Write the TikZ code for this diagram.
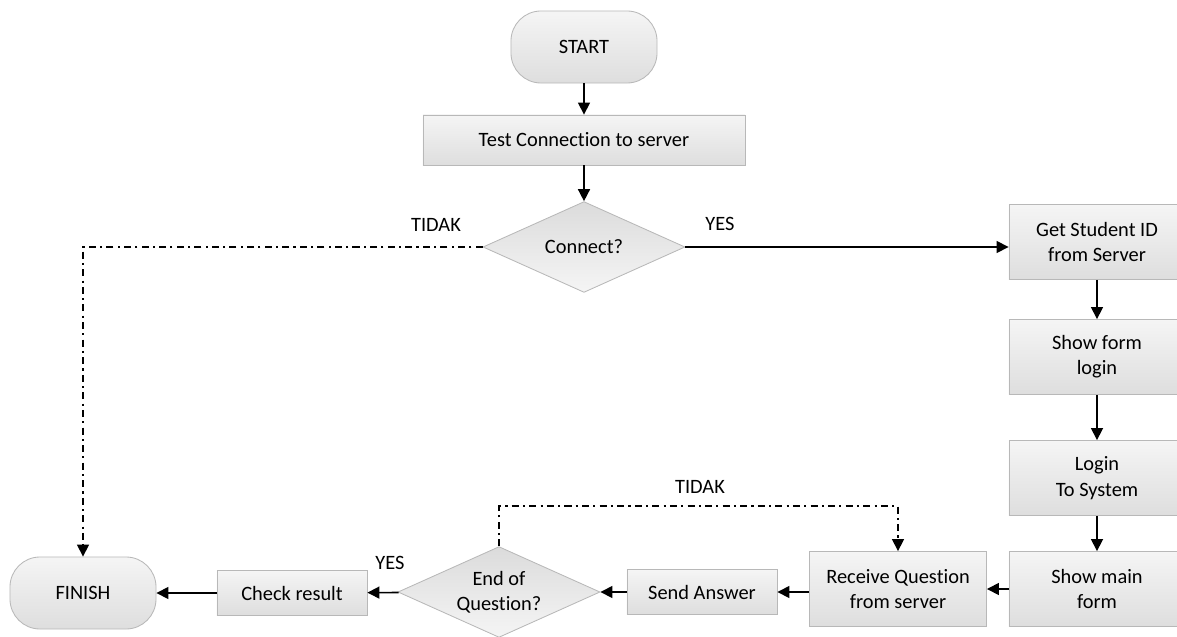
\documentclass[tikz,border=0pt]{standalone}
\usepackage{fontspec}
\setmainfont{Carlito}[Ligatures=NoCommon]
\usepackage{tikz}
\usetikzlibrary{arrows.meta, shapes.geometric, positioning}
\definecolor{boxline}{rgb}{0.72, 0.72, 0.72}

\tikzset{
	base/.style={draw=boxline, line width=0.6pt, align=center, inner sep=2pt,
		font=\fontsize{14.5}{18}\selectfont, top color=gray!8, bottom color=gray!26},
	term/.style={base, rounded corners=0.75cm, minimum width=3.65cm, minimum height=1.8cm},
	proc/.style={base, minimum width=4.4cm, minimum height=1.875cm},
	smallproc/.style={base, minimum width=3.75cm, minimum height=1.125cm},
	decide/.style={base, diamond, aspect=2.2, inner sep=0pt, top color=gray!28, bottom color=gray!8,
		minimum width=5.05cm, minimum height=2.27cm},
	flow/.style={line width=1.1pt, -{Triangle[length=0.3cm, width=0.3cm]}},
	altflow/.style={flow, dash pattern=on 5pt off 3pt on 1.5pt off 3pt},
	lbl/.style={font=\fontsize{14.5}{18}\selectfont}
}

\begin{document}
\begin{tikzpicture}[x=0.025cm, y=-0.025cm]
		\useasboundingbox (0,0) rectangle (1177,637);
		% top part
		\node [term] (start) at (584,47) {START};
		\node [base, minimum width=8.05cm, minimum height=1.25cm] (test) at (584,140) {Test Connection to server};
		\node [decide] (conn) at (584,247) {Connect?};
		% right column
		\node [proc] (getid) at (1097,242) {Get Student ID\\from Server};
		\node [proc] (formlogin) at (1097,357) {Show form\\login};
		\node [proc] (login) at (1097,478) {Login\\To System};
		\node [proc] (mainform) at (1097,589) {Show main\\form};
		% bottom row
		\node [proc, minimum width=4.425cm] (recv) at (898,589) {Receive Question\\from server};
		\node [smallproc] (send) at (702,592) {Send Answer};
		\node [decide] (endq) at (499,592) {End of\\Question?};
		\node [smallproc] (check) at (292,593) {Check result};
		\node [term] (finish) at (83,593) {FINISH};

		\draw [flow] (start) -- (test);
		\draw [flow] (test) -- (conn);
		\draw [flow] (conn.east) -- (conn.east -| getid.west);
		\draw [altflow] (conn.west) -| (finish.north);
		\draw [flow] (getid) -- (formlogin);
		\draw [flow] (formlogin) -- (login);
		\draw [flow] (login) -- (mainform);
		\draw [flow] (mainform) -- (recv);
		\draw [flow] (recv.west |- send) -- (send);
		\draw [flow] (send) -- (endq);
		\draw [flow] (endq) -- (check);
		\draw [flow] (check) -- (finish);
		\draw [altflow] (endq.north) -- ++(0,-40) -| (recv.north);

		\node [lbl] at (436,225) {TIDAK};
		\node [lbl] at (720,224) {YES};
		\node [lbl] at (390,563) {YES};
		\node [lbl] at (700,487) {TIDAK};
	\end{tikzpicture}
\end{document}
